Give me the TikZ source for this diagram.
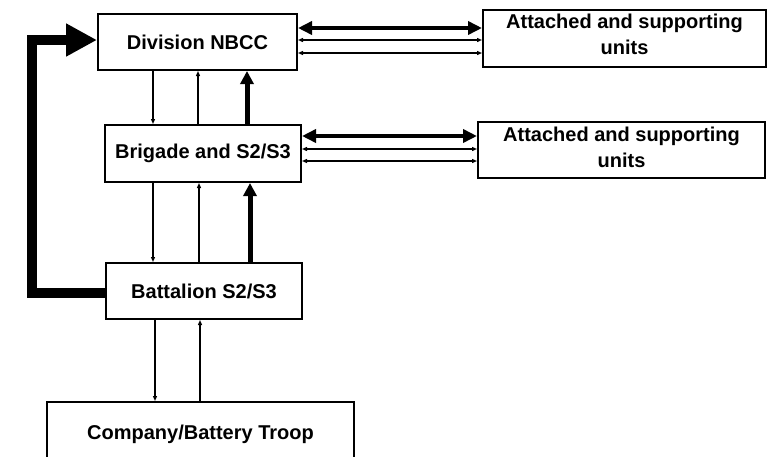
\documentclass[tikz,border=0pt]{standalone}
\usepackage{fontspec}
\setmainfont{Liberation Sans}
\usetikzlibrary{arrows.meta}
\begin{document}
\begin{tikzpicture}[x=1pt,y=-1pt,
  box/.style={draw,line width=2pt,inner sep=0pt,align=center,
    font=\fontsize{20}{26}\selectfont\bfseries},
  thin/.style={line width=1.2pt,{Triangle[length=5pt,width=4pt]}-{Triangle[length=5pt,width=4pt]}},
  thinb/.style={line width=1.7pt,{Triangle[length=5pt,width=4pt]}-{Triangle[length=5pt,width=4pt]}},
  thick/.style={line width=4pt,{Triangle[length=14pt,width=13pt]}-{Triangle[length=14pt,width=13pt]}},
  vthin/.style={line width=1.2pt,-{Triangle[length=5pt,width=4pt]}},
  vthick/.style={line width=5pt,-{Triangle[length=13pt,width=13pt]}},
  big/.style={line width=10pt,line join=miter,-{Triangle[length=31pt,width=31pt]}}]
\useasboundingbox (0,0) rectangle (768,456);
\clip (0,0) rectangle (768,456);
\node[box,minimum width=199pt,minimum height=56pt] (div) at (197.5,42) {Division NBCC};
\node[box,minimum width=196pt,minimum height=57pt] (brig) at (203,153.5) {Brigade and S2/S3};
\node[box,minimum width=196pt,minimum height=56pt] (bat) at (204,291) {Battalion S2/S3};
\node[box,minimum width=307pt,minimum height=68pt] (comp) at (200.5,436) {\raisebox{8pt}{Company/Battery Troop}};
\node[box,minimum width=283pt,minimum height=57pt,text depth=9pt] (a1) at (624.5,38.5) {Attached and supporting\\units};
\node[box,minimum width=287pt,minimum height=56pt,text depth=6pt] (a2) at (621.5,150) {Attached and supporting\\units};
% horizontal links
\draw[thick] (div.east |- 0,28) -- (a1.west |- 0,28);
\draw[thinb] (div.east |- 0,40) -- (a1.west |- 0,40);
\draw[thin] (div.east |- 0,53) -- (a1.west |- 0,53);
\draw[thick] (brig.east |- 0,136) -- (a2.west |- 0,136);
\draw[thinb] (brig.east |- 0,149) -- (a2.west |- 0,149);
\draw[thin] (brig.east |- 0,161) -- (a2.west |- 0,161);
% vertical links
\draw[vthin] (div.south -| 153,0) -- (brig.north -| 153,0);
\draw[vthin] (brig.north -| 198,0) -- (div.south -| 198,0);
\draw[vthick] (brig.north -| 247,0) -- (div.south -| 247,0);
\draw[vthin] (brig.south -| 153,0) -- (bat.north -| 153,0);
\draw[vthin] (bat.north -| 199,0) -- (brig.south -| 199,0);
\draw[vthick] (bat.north -| 250,0) -- (brig.south -| 250,0);
\draw[vthin] (bat.south -| 155,0) -- (comp.north -| 155,0);
\draw[vthin] (comp.north -| 200,0) -- (bat.south -| 200,0);
% big feedback arrow
\draw[big] (bat.west |- 0,293) -- (32,293) -- (32,40) -- (div.west |- 0,40);
\end{tikzpicture}
\end{document}
